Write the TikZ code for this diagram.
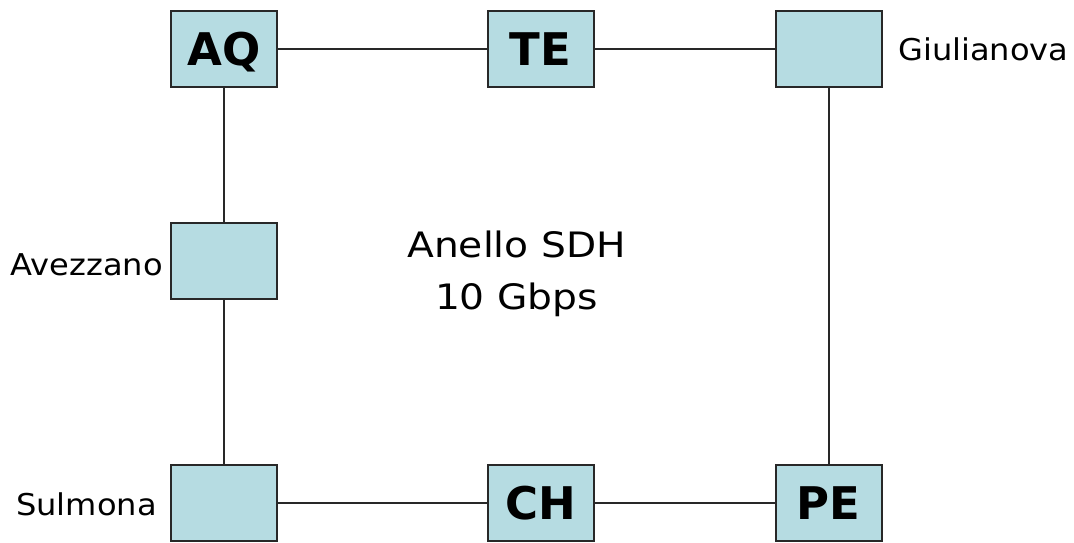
\documentclass[tikz,border=0pt]{standalone}
\usepackage{fontspec}
\setmainfont{DejaVu Sans}
\newfontfamily\labfont[FakeStretch=1.07]{DejaVu Sans}
\newfontfamily\cenfont[FakeStretch=1.12]{DejaVu Sans}
\definecolor{boxfill}{RGB}{182,220,226}
\definecolor{edge}{RGB}{40,40,40}
\tikzset{
  site/.style={draw=edge, line width=2pt, fill=boxfill, minimum width=106pt, minimum height=76pt, inner sep=0pt, font=\fontsize{45}{45}\selectfont\bfseries, text height=33pt, text depth=0pt},
  link/.style={draw=edge, line width=2pt},
  place/.style={inner sep=0pt, font=\labfont\fontsize{30}{30}\selectfont},
  ring/.style={inner sep=0pt, align=center, font=\cenfont\fontsize{35}{52}\selectfont}
}
\begin{document}
\begin{tikzpicture}[x=1pt,y=-1pt]
\useasboundingbox (0,0) rectangle (1074,543);
\fill[white] (0,0) rectangle (1074,543);
\node[site] (AQ) at (224,49) {AQ};
\node[site] (TE) at (540.5,49) {TE};
\node[site] (GI) at (828.5,49) {};
\node[site] (AV) at (224,261) {};
\node[site] (SU) at (224,503) {};
\node[site] (CH) at (540.5,503) {CH};
\node[site] (PE) at (828.5,503) {PE};
\draw[link] (AQ) -- (TE);
\draw[link] (TE) -- (GI);
\draw[link] (GI) -- (PE);
\draw[link] (PE) -- (CH);
\draw[link] (CH) -- (SU);
\draw[link] (SU) -- (AV);
\draw[link] (AV) -- (AQ);
\node[place, anchor=base west] (labGI) at (898,61) {Giulianova};
\node[place, anchor=base east] (labAV) at (163,275) {Avezzano};
\node[place, anchor=base east] (labSU) at (157,515) {Sulmona};
\node[ring, anchor=base] (ringtxt) at (516.5,309) {Anello SDH\\10 Gbps};
\end{tikzpicture}
\end{document}
